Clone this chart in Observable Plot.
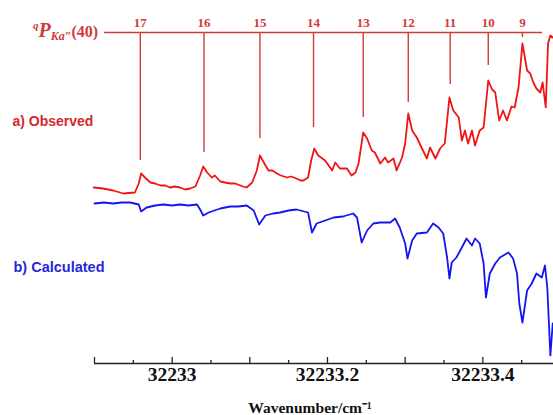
<!DOCTYPE html>
<html><head><meta charset="utf-8">
<script src="https://cdn.jsdelivr.net/npm/d3@7"></script>
<script src="https://cdn.jsdelivr.net/npm/@observablehq/plot@0.6"></script>
<style>html,body{margin:0;padding:0;background:#fff}#chart svg{display:block}</style>
</head><body><div id="chart"></div>
<script>
// Observed spectrum (wavenumber / cm^-1, intensity arb. units)
const obsWn = [32232.899,32232.911,32232.924,32232.937,32232.952,32232.957,32232.960,32232.965,32232.972,32232.978,32232.985,32232.991,32232.997,32233.004,32233.010,32233.017,32233.023,32233.030,32233.036,32233.040,32233.045,32233.051,32233.055,32233.062,32233.068,32233.075,32233.081,32233.088,32233.091,32233.096,32233.103,32233.109,32233.113,32233.118,32233.124,32233.129,32233.135,32233.140,32233.148,32233.153,32233.160,32233.165,32233.169,32233.175,32233.179,32233.183,32233.188,32233.197,32233.206,32233.210,32233.216,32233.225,32233.231,32233.236,32233.240,32233.246,32233.251,32233.257,32233.261,32233.268,32233.274,32233.278,32233.285,32233.289,32233.296,32233.300,32233.304,32233.309,32233.315,32233.321,32233.328,32233.332,32233.339,32233.345,32233.351,32233.357,32233.362,32233.369,32233.373,32233.377,32233.381,32233.386,32233.390,32233.396,32233.401,32233.407,32233.412,32233.416,32233.421,32233.426,32233.431,32233.437,32233.441,32233.446,32233.451,32233.457,32233.461,32233.465,32233.469,32233.474,32233.477,32233.481,32233.484,32233.487,32233.490];
const obsInt = [1.76,1.75,1.73,1.70,1.71,1.80,1.90,1.86,1.81,1.80,1.78,1.78,1.76,1.77,1.76,1.74,1.75,1.77,1.88,1.97,1.91,1.86,1.88,1.82,1.81,1.80,1.80,1.78,1.77,1.76,1.81,1.93,2.08,2.01,1.93,1.93,1.90,1.88,1.86,1.87,1.85,1.83,1.83,1.86,2.03,2.15,2.08,2.03,1.93,2.01,1.95,1.95,1.88,1.91,2.00,2.31,2.25,2.13,2.11,2.00,2.06,2.01,2.05,1.93,2.06,2.20,2.50,2.33,2.26,2.16,2.05,2.16,2.05,2.15,2.20,2.66,2.53,2.46,2.23,2.33,2.20,2.33,2.18,2.33,2.36,2.83,2.74,2.71,2.43,2.53,2.43,2.57,2.56,2.76,3.20,2.93,2.90,2.81,2.75,2.71,2.81,2.56,3.20,3.28,3.26];

// Calculated spectrum
const calcWn = [32232.900,32232.912,32232.924,32232.935,32232.946,32232.957,32232.960,32232.967,32232.978,32232.989,32233.000,32233.010,32233.021,32233.032,32233.036,32233.040,32233.047,32233.062,32233.075,32233.085,32233.096,32233.105,32233.112,32233.120,32233.130,32233.139,32233.150,32233.160,32233.175,32233.180,32233.186,32233.197,32233.208,32233.220,32233.233,32233.238,32233.244,32233.251,32233.259,32233.268,32233.281,32233.287,32233.293,32233.300,32233.303,32233.309,32233.315,32233.328,32233.336,32233.343,32233.349,32233.354,32233.357,32233.360,32233.366,32233.373,32233.379,32233.386,32233.390,32233.396,32233.401,32233.404,32233.409,32233.416,32233.422,32233.433,32233.439,32233.444,32233.447,32233.451,32233.457,32233.463,32233.469,32233.476,32233.480,32233.483,32233.487,32233.490];
const calcInt = [1.60,1.61,1.60,1.61,1.61,1.59,1.52,1.56,1.58,1.59,1.58,1.59,1.58,1.59,1.54,1.48,1.51,1.55,1.57,1.57,1.58,1.53,1.39,1.48,1.50,1.51,1.53,1.54,1.51,1.31,1.40,1.43,1.46,1.47,1.50,1.46,1.21,1.33,1.40,1.41,1.41,1.45,1.36,1.20,1.05,1.23,1.30,1.31,1.40,1.36,1.30,1.06,0.85,1.01,1.06,1.16,1.25,1.18,1.25,1.20,1.00,0.66,0.90,1.00,1.06,1.11,1.05,0.90,0.60,0.41,0.73,0.80,0.90,0.86,0.98,0.76,0.08,0.40];

// Assignment comb qP_Ka''(40)
const lineJ = [17,16,15,14,13,12,11,10,9];
const lineWn = [32232.959,32233.041,32233.113,32233.182,32233.246,32233.304,32233.358,32233.407,32233.451];
const lineEnd = [2.03,2.11,2.25,2.36,2.46,2.61,2.79,2.98,3.26];
const combY = 3.31;
const combX1 = 32232.913, combX2 = 32233.477;
const numberY = 3.41;

// Axes
const xDomain = [32232.9, 32233.491];
const yDomain = [0, 3.63];
const majorTicks = [32232.9,32233.0,32233.1,32233.2,32233.3,32233.4];
const minorTicks = [32232.95,32233.05,32233.15,32233.25,32233.35,32233.45];
const labelTicks = [32233,32233.2,32233.4];
const labelText = ["32233","32233.2","32233.4"];
const seriesLabels = ["a) Observed","b) Calculated"];
const seriesLabelY = [2.42,0.96];
const xTitle = "Wavenumber/cm\u207B\u00B9";

const obs = obsWn.map((w,i)=>({w, v: obsInt[i]}));
const calc = calcWn.map((w,i)=>({w, v: calcInt[i]}));
const comb = lineJ.map((j,i)=>({j, w: lineWn[i], end: lineEnd[i]}));
const ticksLab = labelTicks.map((t,i)=>({t, s: labelText[i]}));

const red = "#f01414", blue = "#1414f0", combColor = "#d23a3a";
const serif = "'Liberation Serif','Times New Roman',serif";
const sans = "'Liberation Sans',Arial,sans-serif";

const frameH = 415 - 52;

const plot = Plot.plot({
  width: 553, height: 415,
  marginLeft: 94, marginRight: 0, marginTop: 0, marginBottom: 52,
  x: {domain: xDomain, axis: null},
  y: {domain: yDomain, axis: null},
  style: {background: "#fff", overflow: "visible"},
  marks: [
    Plot.ruleY([0], {stroke: "#222", strokeWidth: 1.5}),
    Plot.tickX(majorTicks, {x: d => d, insetTop: frameH - 6, stroke: "#222", strokeWidth: 1.3}),
    Plot.tickX(minorTicks, {x: d => d, insetTop: frameH - 3, stroke: "#222", strokeWidth: 1.3}),
    Plot.text(ticksLab, {x: "t", text: "s", frameAnchor: "bottom", lineAnchor: "middle", dy: 11,
      fontFamily: serif, fontWeight: "bold", fontSize: 19.5, fill: "#111"}),
    Plot.text([xTitle], {text: d => d, frameAnchor: "bottom", lineAnchor: "middle", dx: -14, dy: 45,
      fontFamily: serif, fontWeight: "bold", fontSize: 15.5, fill: "#111"}),
    Plot.line(obs, {x: "w", y: "v", stroke: red, strokeWidth: 1.8}),
    Plot.line(calc, {x: "w", y: "v", stroke: blue, strokeWidth: 1.8}),
    Plot.ruleY([combY], {x1: combX1, x2: combX2, stroke: combColor, strokeWidth: 1.5}),
    Plot.ruleX(comb, {x: "w", y1: combY, y2: "end", stroke: combColor, strokeWidth: 1.4}),
    Plot.text(comb, {x: "w", y: numberY, text: d => String(d.j), fontFamily: serif, fontWeight: "bold", fontSize: 13, fill: combColor, lineAnchor: "middle"}),
    Plot.text([seriesLabels[0]], {text: d => d, y: seriesLabelY[0], frameAnchor: "left", textAnchor: "start", dx: -82,
      fontFamily: sans, fontWeight: "bold", fontSize: 14, fill: "#d02a2a", lineAnchor: "middle"}),
    Plot.text([seriesLabels[1]], {text: d => d, y: seriesLabelY[1], frameAnchor: "left", textAnchor: "start", dx: -81,
      fontFamily: sans, fontWeight: "bold", fontSize: 14.5, fill: "#2626d8", lineAnchor: "middle"})
  ]
});

// qP_Ka''(40) label with super/subscripts, anchored to start of the comb line
const xs = plot.scale("x"), ys = plot.scale("y");
const lx = xs.apply(combX1) - 6, ly = ys.apply(combY) + 5;
const t = d3.select(plot).append("text")
  .attr("x", lx).attr("y", ly).attr("text-anchor", "end")
  .attr("fill", combColor).attr("font-family", serif).attr("font-weight", "bold");
t.append("tspan").attr("font-style", "italic").attr("font-size", 11).attr("dy", -8).text("q");
t.append("tspan").attr("font-style", "italic").attr("font-size", 20).attr("dy", 8).text("P");
t.append("tspan").attr("font-style", "italic").attr("font-size", 12).attr("dy", 3).text("Ka\u2033");
t.append("tspan").attr("font-size", 16).attr("dy", -3).text("(40)");

document.getElementById("chart").appendChild(plot);
</script>
</body></html>
